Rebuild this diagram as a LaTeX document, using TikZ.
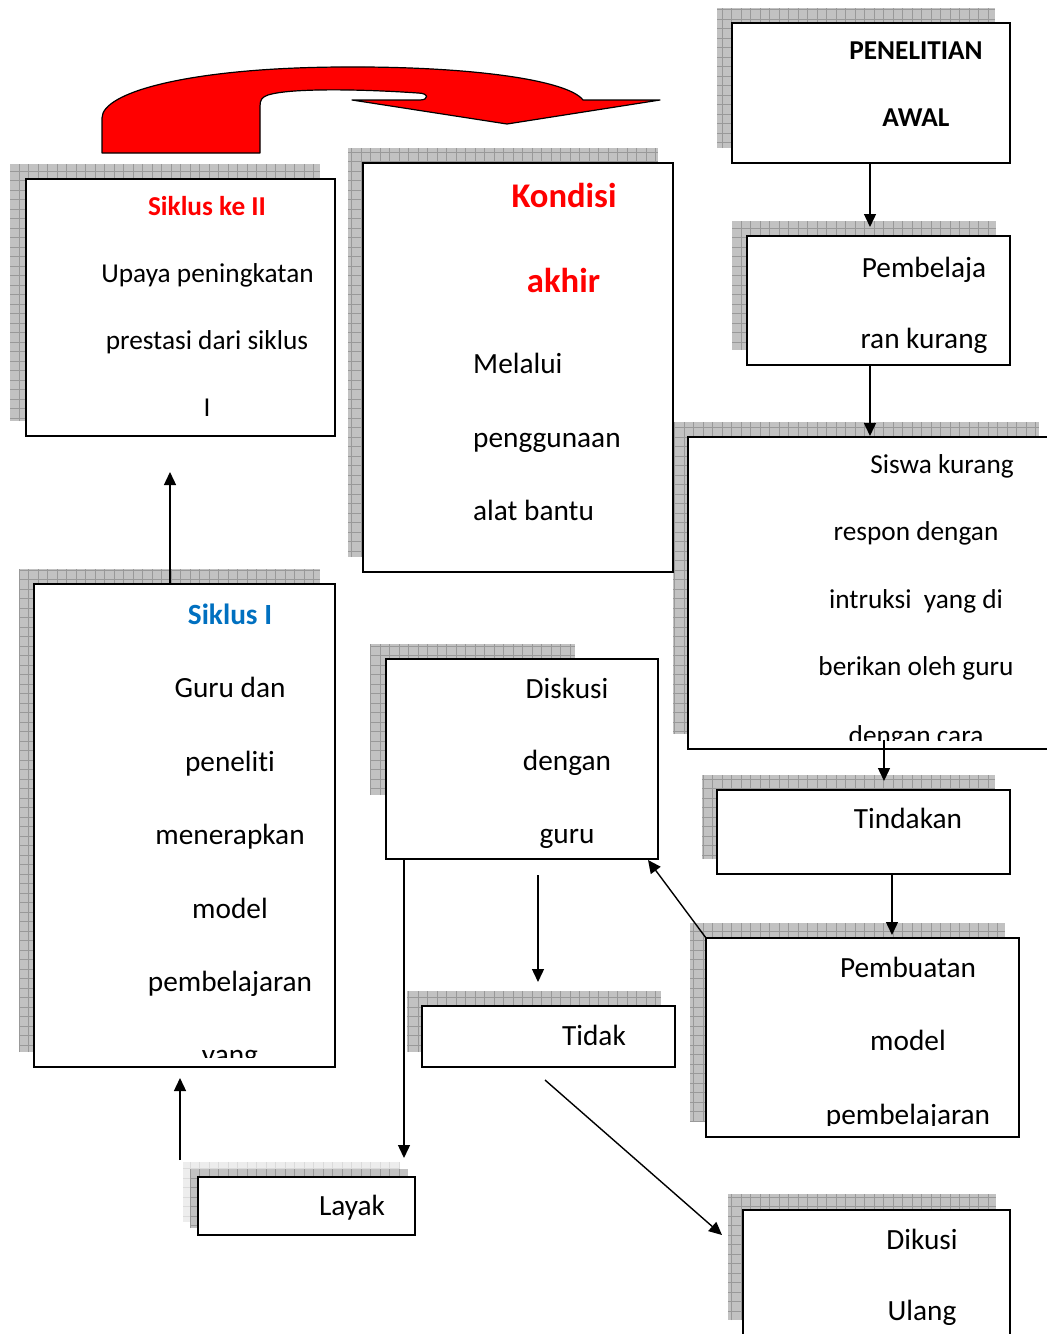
\documentclass[tikz,border=0pt]{standalone}
\usepackage{fontspec}
\setmainfont[Ligatures=NoCommon]{Carlito}
\usetikzlibrary{arrows.meta,calc,fit}
\definecolor{myblue}{HTML}{0070C0}
\begin{document}
\begin{tikzpicture}[x=1pt,y=-1pt,
  bx/.style={draw=black, line width=1.4pt, fill=white, inner sep=0pt, outer sep=0pt},
  shfill/.style={fill=black!24},
  shgrid/.style={draw=black!40, line width=0.6pt, step=9.5pt},
  arr/.style={line width=1.4pt, -{Triangle[length=13pt,width=12pt]}},
  tx/.style={font=\fontsize{29.3}{30}\selectfont, anchor=base, inner sep=0pt},
  txs/.style={font=\fontsize{27.3}{28}\selectfont, anchor=base, inner sep=0pt},
  txb/.style={font=\fontsize{27.3}{28}\selectfont\bfseries, anchor=base, inner sep=0pt},
  txl/.style={font=\fontsize{29.3}{30}\selectfont, anchor=base west, inner sep=0pt}]
\useasboundingbox (0,0) rectangle (1047,1334);
\fill[white] (0,0) rectangle (1047,1334);
% shadows
\newcommand\shrect[2]{\fill[shfill] #1 rectangle #2; \draw[shgrid] #1 grid #2;}
\shrect{(717,8)}{(995,148)}
\shrect{(732,221)}{(996,350)}
\shrect{(673,422)}{(1039,734)}
\shrect{(702,775)}{(995,859)}
\shrect{(690,923)}{(1005,1122)}
\shrect{(370,644)}{(575,795)}
\shrect{(407,991)}{(661,1052)}
\shrect{(728,1194)}{(996,1320)}
\fill[black!7] (183,1162) rectangle (400,1222);
\draw[black!14, line width=0.6pt, step=9.5pt] (183,1162) grid (400,1222);
\shrect{(190,1169)}{(408,1228)}
\shrect{(19,569)}{(320,1052)}
\shrect{(10,164)}{(320,421)}
\shrect{(348,148)}{(658,557)}
% red curved arrow
\draw[line width=1.2pt, fill=red, line join=round]
  (102,153) -- (102,118) .. controls (102,92) and (190,68) .. (340,67)
  .. controls (470,66) and (568,80) .. (583,100) -- (660,100) -- (507,124) -- (352,100)
  -- (420,100) .. controls (429,100) and (429,93) .. (418,93)
  .. controls (360,89) and (290,88) .. (268,95)
  .. controls (262,97) and (260,100) .. (260,106) -- (260,153) -- cycle;
% boxes
\node[bx, fit={(732,23) (1010,163)}] (pen) {};
\node[bx, fit={(747,236) (1010,365)}] (pemb) {};
\node[bx, fit={(688,437) (1060,749)}] (siswa) {};
\node[bx, fit={(717,790) (1010,874)}] (tind) {};
\node[bx, fit={(706,938) (1019,1137)}] (pmod) {};
\node[bx, fit={(386,659) (658,859)}] (disk) {};
\node[bx, fit={(422,1006) (675,1067)}] (tidak) {};
\node[bx, fit={(743,1210) (1010,1350)}] (dikusi) {};
\node[bx, fit={(198,1177) (415,1235)}] (layak) {};
\node[bx, fit={(34,584) (335,1067)}] (sik1) {};
\node[bx, fit={(26,179) (335,436)}] (sik2) {};
\node[bx, fit={(363,163) (673,572)}] (kond) {};
% texts
\node[txb] (pen1) at (916,59) {PENELITIAN};
\node[txb] (pen2) at (916,126) {AWAL};
\node[tx] (pemb1) at (924,277) {Pembelaja};
\node[tx] (pemb2) at (924,348) {ran kurang};
\begin{scope}
\clip (690,439) rectangle (1047,740);
\node[txs] (sis1) at (942,473) {Siswa kurang};
\node[txs] (sis2) at (916,540) {respon dengan};
\node[txs] (sis3) at (916,608) {intruksi\ \ yang di};
\node[txs] (sis4) at (916,675) {berikan oleh guru};
\node[txs] (sis5) at (916,744) {dengan cara};
\end{scope}
\node[tx] (tind1) at (908,828) {Tindakan};
\begin{scope}
\clip (708,940) rectangle (1017,1125);
\node[tx] (pm1) at (908,977) {Pembuatan};
\node[tx] (pm2) at (908,1050) {model};
\node[tx] (pm3) at (908,1124) {pembelajaran};
\end{scope}
\node[tx] (dk1) at (567,698) {Diskusi};
\node[tx] (dk2) at (567,770) {dengan};
\node[tx] (dk3) at (567,843) {guru};
\node[tx] (td1) at (594,1045) {Tidak};
\node[tx] (ly1) at (352,1215) {Layak};
\node[tx] (du1) at (922,1249) {Dikusi};
\node[tx] (du2) at (922,1320) {Ulang};
\begin{scope}
\clip (36,586) rectangle (333,1057);
\node[tx, font=\fontsize{29.3}{30}\selectfont\bfseries, text=myblue] (s1a) at (230,624) {Siklus I};
\node[tx] (s1b) at (230,697) {Guru dan};
\node[tx] (s1c) at (230,771) {peneliti};
\node[tx] (s1d) at (230,844) {menerapkan};
\node[tx] (s1e) at (230,918) {model};
\node[tx] (s1f) at (230,991) {pembelajaran};
\node[tx] (s1g) at (230,1064) {yang};
\end{scope}
\node[txb, text=red] (s2a) at (207,215) {Siklus ke II};
\node[txs] (s2b) at (207.5,282) {Upaya peningkatan};
\node[txs] (s2c) at (207,349) {prestasi dari siklus};
\node[txs] (s2d) at (207,416) {I};
\node[txb, font=\fontsize{34.6}{36}\selectfont\bfseries, text=red] (k1) at (564,207) {Kondisi};
\node[txb, font=\fontsize{34.6}{36}\selectfont\bfseries, text=red] (k2) at (563.5,292) {akhir};
\node[txl] (k3) at (473,373) {Melalui};
\node[txl] (k4) at (473,447) {penggunaan};
\node[txl] (k5) at (473,520) {alat bantu};
% connectors
\coordinate (t1) at (870,227);
\coordinate (t2) at (870,436);
\coordinate (s3) at (884,740);
\coordinate (t3) at (884,781);
\coordinate (t4) at (892,935);
\coordinate (t5) at (648,860);
\coordinate (f1) at (538,875);
\coordinate (t6) at (538,982);
\coordinate (t7) at (404,1158);
\coordinate (f2) at (545,1080);
\coordinate (t8) at (722,1235);
\coordinate (f3) at (180,1160);
\coordinate (t9) at (180,1078);
\coordinate (t10) at (170,472);
\draw[arr] ($(pen.south)+(-1,0)$) -- (t1);
\draw[arr] ($(pemb.south)+(-8.5,0)$) -- (t2);
\draw[arr] (s3) -- (t3);
\draw[arr] ($(tind.south)+(28.5,0)$) -- (t4);
\draw[arr] (pmod.north west) -- (t5);
\draw[arr] (f1) -- (t6);
\draw[arr] ($(disk.south west)+(18,0)$) -- (t7);
\draw[arr] (f2) -- (t8);
\draw[arr] (f3) -- (t9);
\draw[arr] ($(sik1.north)+(-14.5,0)$) -- (t10);
\end{tikzpicture}
\end{document}
